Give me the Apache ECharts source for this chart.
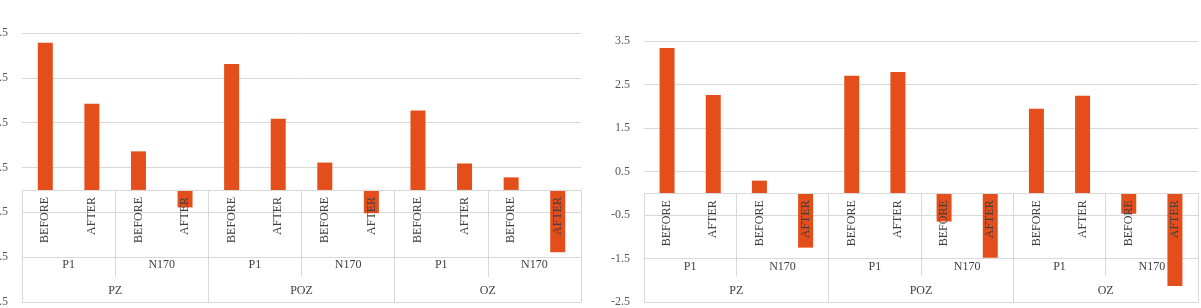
<!DOCTYPE html>
<html>
<head>
    <meta charset="utf-8">
    <title>P1 / N170 before and after</title>
    <script src="https://cdn.jsdelivr.net/npm/echarts@6/dist/echarts.min.js"></script>
    <style>
        html, body { margin: 0; padding: 0; background: #fff; }
    </style>
</head>
<body>
    <div id="main" style="width: 1201px; height: 308px;"></div>
    <script>
        // level 1 / 2 / 3 category labels
        var phases = ['BEFORE', 'AFTER', 'BEFORE', 'AFTER', 'BEFORE', 'AFTER', 'BEFORE', 'AFTER', 'BEFORE', 'AFTER', 'BEFORE', 'AFTER'];
        var components = ['P1', 'N170', 'P1', 'N170', 'P1', 'N170'];
        var zones = ['PZ', 'POZ', 'OZ'];

        // values
        var leftValues = [3.28, 1.92, 0.86, -0.39, 2.81, 1.59, 0.61, -0.52, 1.77, 0.59, 0.28, -1.39];
        var rightValues = [3.34, 2.26, 0.29, -1.25, 2.70, 2.79, -0.65, -1.48, 1.94, 2.24, -0.47, -2.13];

        var yTicks = { min: -2.5, max: 3.5, interval: 1 };

        var chartDom = document.getElementById('main');
        var myChart = echarts.init(chartDom);

        var font = 'Liberation Serif';
        var lineColor = '#d9d9d9';
        var textColor = '#404040';
        var barColor = '#e44e1b';

        var grids = [
            { left: 22, top: 33, width: 559, height: 269, tickEnd: 277 },
            { left: 644, top: 41, width: 554, height: 261, tickEnd: 276 }
        ];

        var xAxes = [];
        var yAxes = [];
        grids.forEach(function (g, i) {
            var bottom = g.top + g.height;
            // pixel row of a value, same linear map the value axis uses
            var yOf = function (v) {
                return g.top + g.height * (yTicks.max - v) / (yTicks.max - yTicks.min);
            };
            var zeroY = yOf(0);
            var rowY = yOf(-1.5);
            // BEFORE / AFTER row, drawn on the zero line
            xAxes.push({
                type: 'category',
                gridIndex: i,
                data: phases,
                position: 'bottom',
                offset: -(bottom - zeroY),
                z: 5,
                axisLine: { onZero: false, lineStyle: { color: lineColor } },
                axisTick: {
                    show: true, length: g.tickEnd - zeroY, lineStyle: { color: lineColor },
                    interval: function (idx) { return idx % 2 === 0; }
                },
                axisLabel: {
                    interval: 0, rotate: 90, margin: 7,
                    fontFamily: font, fontSize: 12, color: textColor
                }
            });
            // P1 / N170 row
            xAxes.push({
                type: 'category',
                gridIndex: i,
                data: components,
                position: 'bottom',
                offset: -(bottom - rowY),
                axisLine: { onZero: false, lineStyle: { color: lineColor } },
                axisTick: { show: false },
                axisLabel: { interval: 0, margin: 2, fontFamily: font, fontSize: 12, color: textColor }
            });
            // zone row
            xAxes.push({
                type: 'category',
                gridIndex: i,
                data: zones,
                position: 'bottom',
                axisLine: { onZero: false, lineStyle: { color: lineColor } },
                axisTick: { show: true, inside: true, interval: 0, length: bottom - zeroY, lineStyle: { color: lineColor } },
                axisLabel: { interval: 0, inside: true, margin: 5, fontFamily: font, fontSize: 12, color: textColor }
            });
            yAxes.push({
                type: 'value',
                gridIndex: i,
                min: yTicks.min,
                max: yTicks.max,
                interval: yTicks.interval,
                axisLine: { show: false },
                axisTick: { show: false },
                splitLine: { lineStyle: { color: lineColor } },
                axisLabel: {
                    margin: 14, fontFamily: font, fontSize: 12, color: '#595959',
                    formatter: function (v) { return v.toFixed(1); }
                }
            });
        });

        var option = {
            animation: false,
            grid: grids.map(function (g) {
                return { left: g.left, top: g.top, width: g.width, height: g.height, containLabel: false, outerBoundsMode: 'none' };
            }),
            xAxis: xAxes,
            yAxis: yAxes,
            series: [
                {
                    type: 'bar',
                    xAxisIndex: 0,
                    yAxisIndex: 0,
                    data: leftValues,
                    barWidth: 15,
                    itemStyle: { color: barColor }
                },
                {
                    type: 'bar',
                    xAxisIndex: 3,
                    yAxisIndex: 1,
                    data: rightValues,
                    barWidth: 15,
                    itemStyle: { color: barColor }
                }
            ]
        };

        myChart.setOption(option);
    </script>
</body>
</html>
